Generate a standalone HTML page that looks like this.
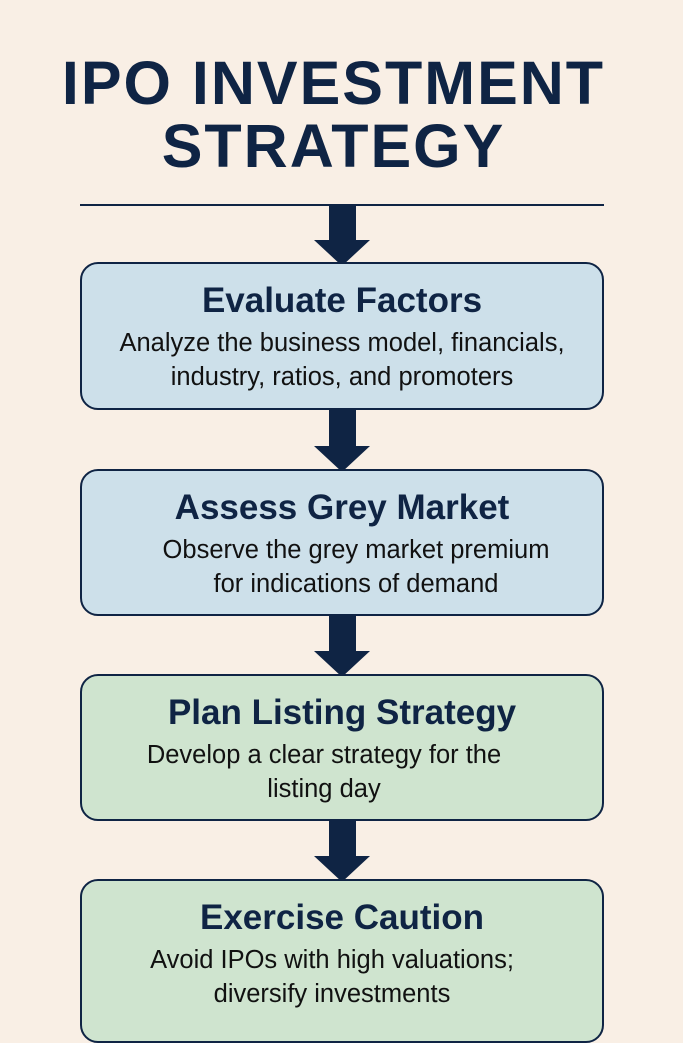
<!DOCTYPE html>
<html><head><style>
body{margin:0;width:683px;height:1024px;background:#f9efe5;position:relative;overflow:hidden;font-family:"Liberation Sans",sans-serif;color:#0f2444}
.t{position:absolute;left:-8px;width:683px;text-align:center;font-weight:bold;font-size:61px;letter-spacing:2px}
.box{position:absolute;left:80px;width:520px;border:2.5px solid #0f2444;border-radius:18px;text-align:center}
.blue{background:#cde0ea}.green{background:#cfe4cf}
.h{font-weight:bold;font-size:35px;margin-top:16px;line-height:42px}
.p{font-size:25.5px;color:#111;line-height:34px;margin-top:4px}
.sh{position:absolute;left:329px;width:27px;background:#0f2444}
.hd{position:absolute;left:314px;width:0;height:0;border-left:28px solid transparent;border-right:28px solid transparent;border-top:26px solid #0f2444}
</style></head><body>
<div class="t" style="top:48px">IPO INVESTMENT</div>
<div class="t" style="top:111px">STRATEGY</div>
<div style="position:absolute;left:80px;top:204px;width:524px;height:2px;background:#0f2444"></div>
<div class="sh" style="top:206px;height:36px"></div><div class="hd" style="top:240px"></div>
<div class="box blue" style="top:262px;height:144px"><div class="h">Evaluate Factors</div><div class="p">Analyze the business model, financials,<br>industry, ratios, and promoters</div></div>
<div class="sh" style="top:410px;height:38px"></div><div class="hd" style="top:446px"></div>
<div class="box blue" style="top:469px;height:143px"><div class="h">Assess Grey Market</div><div class="p" style="padding-left:28px">Observe the grey market premium<br>for indications of demand</div></div>
<div class="sh" style="top:615px;height:38px"></div><div class="hd" style="top:651px"></div>
<div class="box green" style="top:674px;height:143px"><div class="h">Plan Listing Strategy</div><div class="p" style="padding-right:36px">Develop a clear strategy for the<br>listing day</div></div>
<div class="sh" style="top:820px;height:38px"></div><div class="hd" style="top:856px"></div>
<div class="box green" style="top:879px;height:160px"><div class="h">Exercise Caution</div><div class="p" style="padding-right:20px">Avoid IPOs with high valuations;<br>diversify investments</div></div>
</body></html>
